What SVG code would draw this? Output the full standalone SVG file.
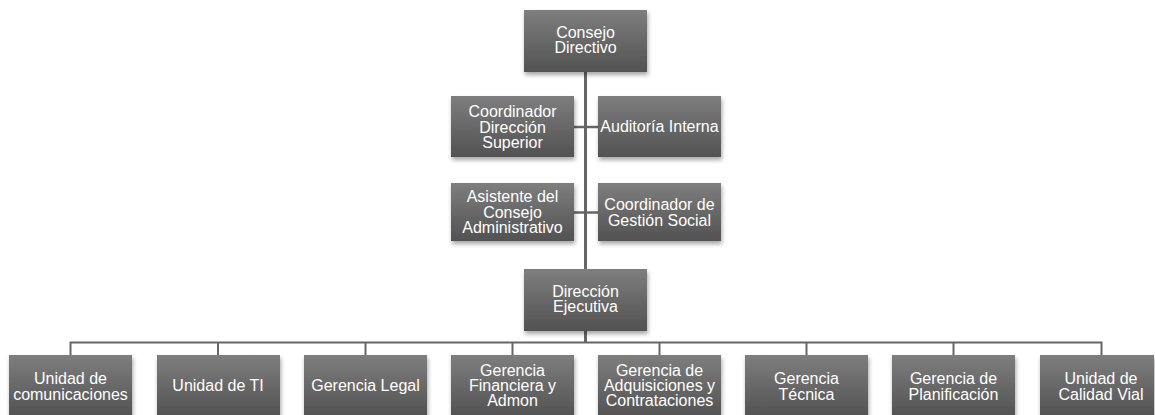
<svg xmlns="http://www.w3.org/2000/svg" width="1155" height="415" viewBox="0 0 1155 415">
<defs>
<linearGradient id="g" x1="0" y1="0" x2="0" y2="1">
<stop offset="0" stop-color="#7e7e7e"/>
<stop offset="1" stop-color="#525252"/>
</linearGradient>
<filter id="sh" x="-10%" y="-10%" width="125%" height="135%">
<feDropShadow dx="1" dy="3" stdDeviation="2" flood-color="#000" flood-opacity="0.35"/>
</filter>
</defs>
<style>
.box{fill:url(#g);filter:url(#sh)}
.t{font-family:"Liberation Sans",Arial,sans-serif;font-size:16px;fill:#ffffff;text-anchor:middle}
.ln{stroke:#666666;fill:none}
</style>
<rect width="1155" height="415" fill="#ffffff"/>
<g id="connectors">
<line class="ln" x1="585.5" y1="72" x2="585.5" y2="269" stroke-width="3"/>
<line class="ln" x1="574" y1="127" x2="598" y2="127" stroke-width="2.5"/>
<line class="ln" x1="574" y1="212.5" x2="598" y2="212.5" stroke-width="2.5"/>
<line class="ln" x1="585.5" y1="331" x2="585.5" y2="343" stroke-width="3"/>
<polyline class="ln" points="70.5,355 70.5,342.5 1101.5,342.5 1101.5,355" stroke-width="2"/>
<line class="ln" x1="218" y1="342.5" x2="218" y2="355" stroke-width="2"/>
<line class="ln" x1="365.5" y1="342.5" x2="365.5" y2="355" stroke-width="2"/>
<line class="ln" x1="512.5" y1="342.5" x2="512.5" y2="355" stroke-width="2"/>
<line class="ln" x1="659.5" y1="342.5" x2="659.5" y2="355" stroke-width="2"/>
<line class="ln" x1="806.5" y1="342.5" x2="806.5" y2="355" stroke-width="2"/>
<line class="ln" x1="953.5" y1="342.5" x2="953.5" y2="355" stroke-width="2"/>
</g>
<g id="consejo-directivo">
<rect class="box" x="524" y="10" width="123" height="62"/>
<text class="t" x="585.5" y="38">Consejo</text>
<text class="t" x="585.5" y="53">Directivo</text>
</g>
<g id="coordinador-direccion-superior">
<rect class="box" x="451" y="96" width="123" height="61"/>
<text class="t" x="512.5" y="117">Coordinador</text>
<text class="t" x="512.5" y="132.5">Dirección</text>
<text class="t" x="512.5" y="148">Superior</text>
</g>
<g id="auditoria-interna">
<rect class="box" x="598" y="96" width="123" height="61"/>
<text class="t" x="659.5" y="132">Auditoría Interna</text>
</g>
<g id="asistente-consejo">
<rect class="box" x="451" y="183" width="123" height="58"/>
<text class="t" x="512.5" y="202">Asistente del</text>
<text class="t" x="512.5" y="217.5">Consejo</text>
<text class="t" x="512.5" y="233">Administrativo</text>
</g>
<g id="coordinador-gestion-social">
<rect class="box" x="598" y="183" width="123" height="58"/>
<text class="t" x="659.5" y="210">Coordinador de</text>
<text class="t" x="659.5" y="225.5">Gestión Social</text>
</g>
<g id="direccion-ejecutiva">
<rect class="box" x="524" y="269" width="123" height="62"/>
<text class="t" x="585.5" y="297">Dirección</text>
<text class="t" x="585.5" y="312">Ejecutiva</text>
</g>
<g id="unidad-comunicaciones">
<rect class="box" x="9" y="355" width="123" height="62"/>
<text class="t" x="70.5" y="384">Unidad de</text>
<text class="t" x="70.5" y="399.5">comunicaciones</text>
</g>
<g id="unidad-ti">
<rect class="box" x="157" y="355" width="123" height="62"/>
<text class="t" x="218" y="391">Unidad de TI</text>
</g>
<g id="gerencia-legal">
<rect class="box" x="304" y="355" width="123" height="62"/>
<text class="t" x="365.5" y="391">Gerencia Legal</text>
</g>
<g id="gerencia-financiera">
<rect class="box" x="451" y="355" width="123" height="62"/>
<text class="t" x="512.5" y="376">Gerencia</text>
<text class="t" x="512.5" y="391">Financiera y</text>
<text class="t" x="512.5" y="406">Admon</text>
</g>
<g id="gerencia-adquisiciones">
<rect class="box" x="598" y="355" width="123" height="62"/>
<text class="t" x="659.5" y="376">Gerencia de</text>
<text class="t" x="659.5" y="391">Adquisiciones y</text>
<text class="t" x="659.5" y="406">Contrataciones</text>
</g>
<g id="gerencia-tecnica">
<rect class="box" x="745" y="355" width="123" height="62"/>
<text class="t" x="806.5" y="384">Gerencia</text>
<text class="t" x="806.5" y="399.5">Técnica</text>
</g>
<g id="gerencia-planificacion">
<rect class="box" x="892" y="355" width="123" height="62"/>
<text class="t" x="953.5" y="384">Gerencia de</text>
<text class="t" x="953.5" y="399.5">Planificación</text>
</g>
<g id="unidad-calidad-vial">
<rect class="box" x="1040" y="355" width="114" height="62"/>
<text class="t" x="1101" y="384">Unidad de</text>
<text class="t" x="1101" y="399.5">Calidad Vial</text>
</g>
</svg>
